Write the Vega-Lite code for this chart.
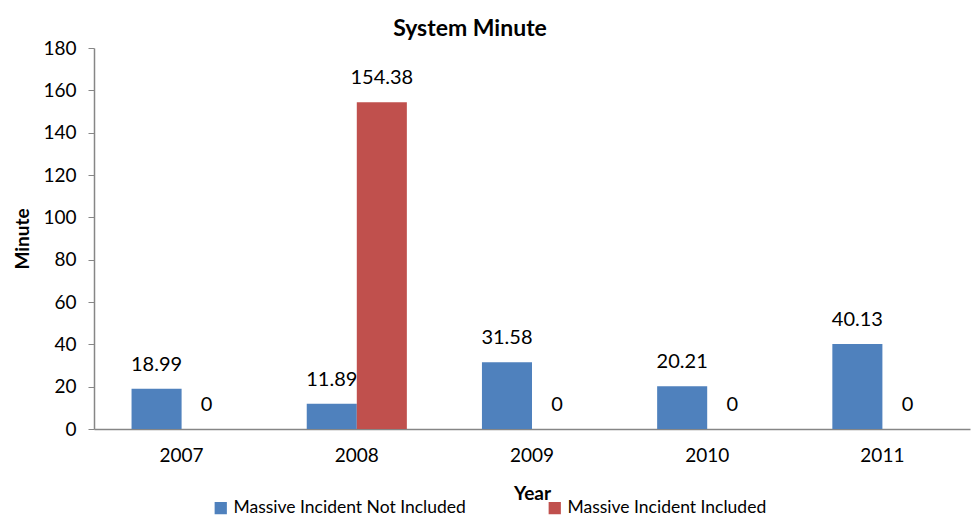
{
  "$schema": "https://vega.github.io/schema/vega-lite/v6.json",
  "autosize": {"type": "none"},
  "width": 876,
  "height": 381,
  "padding": {"left": 94, "top": 48, "right": 4, "bottom": 87},
  "background": "white",
  "config": {
    "font": "Lato",
    "view": {"stroke": null}
  },
  "title": {
    "text": "System Minute",
    "font": "Lato",
    "fontSize": 23,
    "fontWeight": "bold",
    "color": "black",
    "anchor": "middle",
    "dx": -62,
    "offset": -2
  },
  "data": {
    "values": [
      {"year": "2007", "series": "Massive Incident Not Included", "minute": 18.99},
      {"year": "2007", "series": "Massive Incident Included", "minute": 0},
      {"year": "2008", "series": "Massive Incident Not Included", "minute": 11.89},
      {"year": "2008", "series": "Massive Incident Included", "minute": 154.38},
      {"year": "2009", "series": "Massive Incident Not Included", "minute": 31.58},
      {"year": "2009", "series": "Massive Incident Included", "minute": 0},
      {"year": "2010", "series": "Massive Incident Not Included", "minute": 20.21},
      {"year": "2010", "series": "Massive Incident Included", "minute": 0},
      {"year": "2011", "series": "Massive Incident Not Included", "minute": 40.13},
      {"year": "2011", "series": "Massive Incident Included", "minute": 0}
    ]
  },
  "encoding": {
    "x": {
      "field": "year",
      "type": "nominal",
      "scale": {"paddingInner": 0.4286, "paddingOuter": 0.2143},
      "axis": {
        "title": "Year",
        "titleFont": "Lato",
        "titleFontSize": 19,
        "titleFontWeight": "bold",
        "titleColor": "black",
        "titlePadding": 19,
        "labelAngle": 0,
        "labelFontSize": 19,
        "labelColor": "black",
        "labelPadding": 17,
        "ticks": false,
        "domainColor": "#868686",
        "domainWidth": 1.5
      }
    },
    "xOffset": {
      "field": "series",
      "type": "nominal",
      "sort": ["Massive Incident Not Included", "Massive Incident Included"],
      "scale": {"paddingInner": 0, "paddingOuter": 0}
    },
    "y": {
      "field": "minute",
      "type": "quantitative",
      "scale": {"domain": [0, 180], "nice": false},
      "axis": {
        "title": "Minute",
        "titleFont": "Lato",
        "titleFontSize": 19,
        "titleFontWeight": "bold",
        "titleColor": "black",
        "titleX": -62,
        "values": [0, 20, 40, 60, 80, 100, 120, 140, 160, 180],
        "grid": false,
        "labelFontSize": 19,
        "labelColor": "black",
        "labelPadding": 12,
        "tickSize": 6,
        "tickColor": "#868686",
        "domainColor": "#868686",
        "domainWidth": 1.5
      }
    }
  },
  "layer": [
    {
      "mark": {"type": "bar"},
      "encoding": {
        "color": {
          "field": "series",
          "type": "nominal",
          "sort": ["Massive Incident Not Included", "Massive Incident Included"],
          "scale": {
            "domain": ["Massive Incident Not Included", "Massive Incident Included"],
            "range": ["#4F81BD", "#C0504D"]
          },
          "legend": {
            "title": null,
            "orient": "none",
            "direction": "horizontal",
            "legendX": 118,
            "legendY": 451,
            "columnPadding": 80,
            "symbolType": "square",
            "symbolSize": 150,
            "symbolStrokeWidth": 0,
            "labelFontSize": 17.5,
            "labelColor": "black",
            "labelLimit": 400,
            "labelOffset": 4
          }
        }
      }
    },
    {
      "mark": {"type": "text", "dy": -24, "baseline": "middle", "fontSize": 20, "color": "black"},
      "encoding": {
        "text": {"field": "minute", "type": "quantitative"}
      }
    }
  ]
}
